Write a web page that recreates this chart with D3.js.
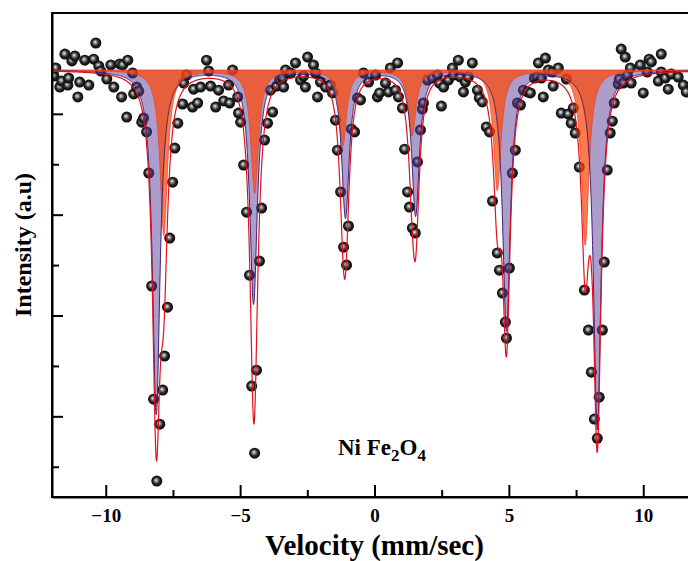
<!DOCTYPE html>
<html>
<head>
<meta charset="utf-8">
<script src="https://cdn.jsdelivr.net/npm/d3@7"></script>
<style>
  body { margin: 0; background: #fff; }
  text { font-family: "Liberation Serif", "Times New Roman", serif; font-weight: bold; }
</style>
</head>
<body>
<div id="chart"></div>
<script>
// Measured spectrum: velocity (mm/sec) and relative transmission (%)
const velocity = [
  -11.93, -11.86, -11.71, -11.64, -11.52, -11.41, -11.38, -11.26, -11.15, -11.04,
  -10.97, -10.78, -10.63, -10.45, -10.37, -10.26, -10.19, -9.96, -9.81, -9.70,
  -9.48, -9.41, -9.37, -9.22, -9.18, -9.00, -8.96, -8.85, -8.77, -8.66,
  -8.59, -8.48, -8.40, -8.29, -8.22, -8.10, -7.99, -7.88, -7.81, -7.70,
  -7.62, -7.51, -7.43, -7.32, -7.14, -7.10, -6.99, -6.77, -6.73, -6.58,
  -6.47, -6.25, -6.17, -6.10, -5.91, -5.80, -5.61, -5.43, -5.39, -5.28,
  -5.09, -5.06, -4.98, -4.87, -4.76, -4.65, -4.57, -4.46, -4.39, -4.28,
  -4.20, -4.09, -3.98, -3.87, -3.79, -3.64, -3.53, -3.42, -3.38, -3.31,
  -3.12, -2.94, -2.75, -2.64, -2.57, -2.49, -2.27, -2.19, -2.12, -2.01,
  -1.82, -1.64, -1.56, -1.45, -1.38, -1.26, -1.15, -1.04, -0.97, -0.86,
  -0.74, -0.63, -0.52, -0.41, -0.22, 0.04, 0.11, 0.19, 0.41, 0.52,
  0.59, 0.78, 0.86, 0.89, 1.04, 1.12, 1.23, 1.30, 1.41, 1.52,
  1.60, 1.71, 1.78, 1.82, 1.97, 2.16, 2.34, 2.42, 2.49, 2.57,
  2.75, 2.90, 2.94, 3.12, 3.20, 3.31, 3.38, 3.49, 3.64, 3.83,
  3.90, 4.01, 4.16, 4.28, 4.39, 4.57, 4.65, 4.76, 4.87, 4.91,
  5.02, 5.13, 5.24, 5.32, 5.43, 5.54, 5.69, 5.80, 5.95, 6.06,
  6.10, 6.21, 6.28, 6.36, 6.47, 6.62, 6.65, 6.84, 6.95, 7.14,
  7.21, 7.32, 7.40, 7.47, 7.62, 7.81, 7.96, 8.07, 8.18, 8.29,
  8.36, 8.48, 8.55, 8.66, 8.77, 8.85, 8.92, 9.07, 9.11, 9.18,
  9.26, 9.33, 9.41, 9.52, 9.55, 9.89, 10.00, 10.15, 10.22, 10.30,
  10.56, 10.67, 10.67, 10.82, 10.93, 11.04, 11.30, 11.49, 11.60
];
const transmission = [
  97.50, 97.82, 97.06, 97.30, 98.37, 97.14, 97.42, 98.10, 98.29, 96.67,
  97.26, 98.13, 97.14, 98.17, 98.81, 97.90, 97.70, 97.38, 97.94, 97.06,
  97.98, 96.67, 97.94, 95.87, 98.13, 97.62, 96.79, 97.06, 96.90, 95.67,
  95.83, 95.28, 93.65, 89.17, 84.68, 81.43, 83.69, 85.04, 86.39, 88.33,
  91.07, 93.29, 94.64, 95.63, 96.39, 97.22, 97.54, 96.27, 96.98, 96.43,
  97.06, 98.13, 97.70, 97.10, 96.27, 96.94, 96.51, 97.14, 96.43, 97.74,
  96.67, 96.03, 95.67, 93.97, 92.10, 89.60, 85.20, 82.54, 85.83, 90.16,
  92.26, 94.96, 95.63, 96.94, 96.07, 97.10, 97.34, 97.42, 97.06, 97.74,
  97.62, 98.02, 97.34, 97.50, 97.06, 98.25, 97.94, 97.62, 96.67, 97.26,
  97.06, 97.14, 96.83, 95.75, 94.56, 92.90, 90.71, 90.00, 91.55, 95.40,
  95.28, 96.63, 96.55, 97.62, 97.26, 97.54, 96.67, 96.83, 97.22, 96.87,
  97.82, 96.94, 98.02, 96.67, 96.23, 94.60, 92.90, 92.30, 91.47, 91.27,
  94.09, 95.36, 96.19, 96.43, 97.34, 97.42, 97.54, 97.22, 96.31, 97.06,
  97.34, 97.82, 97.54, 98.13, 97.46, 96.87, 97.26, 97.46, 98.02, 96.94,
  96.63, 96.47, 95.48, 95.28, 92.54, 90.48, 89.80, 88.89, 87.74, 87.10,
  89.88, 93.65, 94.56, 96.43, 96.35, 96.94, 96.87, 96.83, 97.42, 97.46,
  98.02, 97.42, 96.67, 98.21, 97.74, 97.66, 97.10, 97.82, 96.03, 97.38,
  95.99, 95.63, 96.23, 95.24, 93.89, 89.01, 87.42, 85.75, 83.89, 83.13,
  84.76, 87.42, 90.12, 93.77, 95.24, 95.71, 96.43, 97.18, 97.38, 98.57,
  97.22, 98.25, 97.54, 97.82, 97.22, 97.94, 96.83, 97.66, 98.17, 98.06,
  97.30, 98.37, 97.66, 97.42, 96.98, 97.58, 97.46, 97.14, 96.87
];

// Fitted sextets (Lorentzian lines): centres (mm/sec), depths (%), half widths
const baseline = 97.74;
const sextetACenters = [-7.84, -4.46, -1.18, 1.40, 4.57, 7.84];
const sextetADepths = [6.55, 4.88, 2.98, 2.58, 4.76, 6.94];
const sextetAWidth = 0.17;
const sextetBCenters = [-8.12, -4.50, -1.08, 1.53, 4.91, 8.29];
const sextetBDepths = [13.65, 9.25, 5.83, 5.75, 10.32, 14.25];
const sextetBWidth = 0.17;

// Axis ticks
const xTicks = [-10, -5, 0, 5, 10];
const xMinorTicks = [-7.5, -2.5, 2.5, 7.5];
const yTicks = [84, 88, 92, 96];
const yMinorTicks = [82, 86, 90, 94];

const width = 688;
const height = 561;
const margin = {top: 13, right: -9, bottom: 64, left: 52};
const innerWidth = width - margin.left - margin.right;
const innerHeight = height - margin.top - margin.bottom;

const svg = d3.select("#chart")
  .append("svg")
    .attr("width", width)
    .attr("height", height);

const defs = svg.append("defs");

// glossy black ball for the data points
const ball = defs.append("radialGradient")
  .attr("id", "ball")
  .attr("cx", "50%").attr("cy", "50%").attr("r", "55%")
  .attr("fx", "42%").attr("fy", "40%");
ball.append("stop").attr("offset", "0%").attr("stop-color", "#f4f4f4");
ball.append("stop").attr("offset", "22%").attr("stop-color", "#9a9a9a");
ball.append("stop").attr("offset", "55%").attr("stop-color", "#262626");
ball.append("stop").attr("offset", "100%").attr("stop-color", "#000");

defs.append("clipPath")
  .attr("id", "plot-clip")
  .append("rect")
    .attr("width", innerWidth)
    .attr("height", innerHeight);

const innerChart = svg.append("g")
  .attr("transform", `translate(${margin.left}, ${margin.top})`);

const xScale = d3.scaleLinear()
  .domain([-12, 12])
  .range([0, innerWidth]);

const yScale = d3.scaleLinear()
  .domain([80.8, 100])
  .range([innerHeight, 0]);

// Build the fitted curves from the line parameters
const lorentz = (v, centers, depths, w) =>
  d3.sum(centers, (c, i) => depths[i] * w * w / ((v - c) * (v - c) + w * w));

const grid = d3.range(-12, 12.0001, 0.005);
const curves = grid.map(v => {
  const a = lorentz(v, sextetACenters, sextetADepths, sextetAWidth);
  const b = lorentz(v, sextetBCenters, sextetBDepths, sextetBWidth);
  return {v, a: baseline - a, b: baseline - b, total: baseline - a - b};
});

const plot = innerChart.append("g")
  .attr("clip-path", "url(#plot-clip)");

// Data points
plot.append("g")
  .selectAll("circle")
  .data(velocity)
  .join("circle")
    .attr("cx", d => xScale(d))
    .attr("cy", (d, i) => yScale(transmission[i]))
    .attr("r", 5.5)
    .attr("fill", "url(#ball)");

// Sub-spectrum B (purple)
const areaB = d3.area()
  .x(d => xScale(d.v))
  .y0(yScale(baseline))
  .y1(d => yScale(d.b));
plot.append("path")
  .datum(curves)
  .attr("d", areaB)
  .attr("fill", "#5a3c96")
  .attr("fill-opacity", 0.5);

// Sub-spectrum A (orange)
const areaA = d3.area()
  .x(d => xScale(d.v))
  .y0(yScale(baseline))
  .y1(d => yScale(d.a));
plot.append("path")
  .datum(curves)
  .attr("d", areaA)
  .attr("fill", "#ff4704")
  .attr("fill-opacity", 0.72)
  .attr("stroke", "#e8482a")
  .attr("stroke-width", 0.8);

// Outline of sub-spectrum B
plot.append("path")
  .datum(curves)
  .attr("d", d3.line().x(d => xScale(d.v)).y(d => yScale(d.b)))
  .attr("fill", "none")
  .attr("stroke", "#3b1f78")
  .attr("stroke-width", 1);

// Total fit
plot.append("path")
  .datum(curves)
  .attr("d", d3.line().x(d => xScale(d.v)).y(d => yScale(d.total)))
  .attr("fill", "none")
  .attr("stroke", "#e3101c")
  .attr("stroke-width", 1.2);

// Frame
innerChart.append("rect")
  .attr("width", innerWidth)
  .attr("height", innerHeight)
  .attr("fill", "none")
  .attr("stroke", "#000")
  .attr("stroke-width", 2);

// X axis
const bottomAxis = d3.axisBottom(xScale)
  .tickValues(xTicks)
  .tickSizeInner(-12)
  .tickSizeOuter(0)
  .tickPadding(12)
  .tickFormat(d => d3.format("")(d).replace("-", "\u2212"));
innerChart.append("g")
  .attr("transform", `translate(0, ${innerHeight})`)
  .call(bottomAxis)
  .call(g => g.select(".domain").attr("stroke-width", 2))
  .call(g => g.selectAll(".tick line").attr("stroke-width", 2))
  .call(g => g.selectAll("text")
    .attr("font-size", 19)
    .attr("font-family", "Liberation Serif, serif")
    .attr("font-weight", "bold")
    .attr("fill", "#000"));

innerChart.append("g")
  .attr("transform", `translate(0, ${innerHeight})`)
  .call(d3.axisBottom(xScale).tickValues(xMinorTicks).tickSizeInner(-7).tickSizeOuter(0))
  .call(g => g.select(".domain").remove())
  .call(g => g.selectAll(".tick text").remove())
  .call(g => g.selectAll(".tick line").attr("stroke-width", 2));

// Y axis (no labels)
innerChart.append("g")
  .call(d3.axisLeft(yScale).tickValues(yTicks).tickSizeInner(-11).tickSizeOuter(0))
  .call(g => g.select(".domain").attr("stroke-width", 2))
  .call(g => g.selectAll(".tick text").remove())
  .call(g => g.selectAll(".tick line").attr("stroke-width", 2));

innerChart.append("g")
  .call(d3.axisLeft(yScale).tickValues(yMinorTicks).tickSizeInner(-7).tickSizeOuter(0))
  .call(g => g.select(".domain").remove())
  .call(g => g.selectAll(".tick text").remove())
  .call(g => g.selectAll(".tick line").attr("stroke-width", 2));

// Axis titles
svg.append("text")
  .text("Velocity (mm/sec)")
  .attr("text-anchor", "middle")
  .attr("x", margin.left + xScale(0))
  .attr("y", 555)
  .attr("font-size", 29);

svg.append("text")
  .text("Intensity (a.u)")
  .attr("text-anchor", "middle")
  .attr("transform", "translate(31, 245) rotate(-90)")
  .attr("font-size", 24);

// Sample label
const label = svg.append("text")
  .attr("x", 338)
  .attr("y", 455)
  .attr("font-size", 23);
label.append("tspan").text("Ni Fe");
label.append("tspan").text("2").attr("font-size", 17).attr("dy", 6);
label.append("tspan").text("O").attr("dy", -6);
label.append("tspan").text("4").attr("font-size", 17).attr("dy", 6);
</script>
</body>
</html>
